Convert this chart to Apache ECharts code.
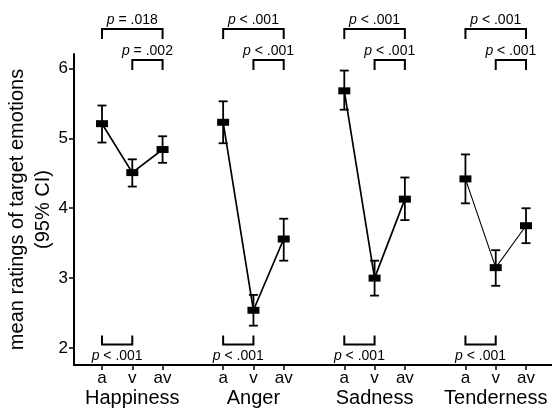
<!DOCTYPE html>
<html>
<head>
<meta charset="utf-8">
<script src="https://cdn.jsdelivr.net/npm/echarts@6/dist/echarts.min.js"></script>
<style>
html,body{margin:0;padding:0;background:#fff;}
#chart{width:552px;height:410px;}
</style>
</head>
<body>
<div id="chart"></div>
<script>
// ---- data ----
const groups = ['Happiness', 'Anger', 'Sadness', 'Tenderness'];
const conditions = ['a', 'v', 'av'];
const yTicks = [2, 3, 4, 5, 6];

const meanA  = [5.21, 5.23, 5.68, 4.42];
const meanV  = [4.51, 2.54, 3.00, 3.15];
const meanAV = [4.84, 3.56, 4.13, 3.75];

const ciLowA   = [4.94, 4.93, 5.41, 4.07];
const ciHighA  = [5.47, 5.53, 5.97, 4.77];
const ciLowV   = [4.31, 2.32, 2.75, 2.89];
const ciHighV  = [4.70, 2.76, 3.25, 3.40];
const ciLowAV  = [4.65, 3.25, 3.83, 3.50];
const ciHighAV = [5.03, 3.85, 4.44, 4.00];

const pAvsAV = ['p = .018', 'p < .001', 'p < .001', 'p < .001'];
const pVvsAV = ['p = .002', 'p < .001', 'p < .001', 'p < .001'];
const pAvsV  = ['p < .001', 'p < .001', 'p < .001', 'p < .001'];

// ---- build ----
const FONT = "'Liberation Sans', Arial, Helvetica, sans-serif";
const STEP = conditions.length + 1;
const pos = (g, c) => g * STEP + c;
const means = [meanA, meanV, meanAV];
const lows = [ciLowA, ciLowV, ciLowAV];
const highs = [ciHighA, ciHighV, ciHighAV];

const tickPositions = [];
groups.forEach((g, gi) => conditions.forEach((c, ci) => tickPositions.push(pos(gi, ci))));
const groupPositions = groups.map((g, gi) => pos(gi, 1));

const lineSeries = groups.map((g, gi) => ({
  type: 'line',
  name: g,
  data: conditions.map((c, ci) => [pos(gi, ci), means[ci][gi]]),
  showSymbol: false,
  symbol: 'none',
  lineStyle: { color: '#000', width: gi === 3 ? 1.1 : 1.7 },
  z: 2,
  silent: true
}));

const pointData = [];
const errData = [];
groups.forEach((g, gi) => conditions.forEach((c, ci) => {
  pointData.push([pos(gi, ci), means[ci][gi]]);
  errData.push([pos(gi, ci), lows[ci][gi], highs[ci][gi]]);
}));

const bracketData = [];
groups.forEach((g, gi) => {
  bracketData.push([pos(gi, 0), pos(gi, 2), 0, pAvsAV[gi]]);
  bracketData.push([pos(gi, 1), pos(gi, 2), 1, pVvsAV[gi]]);
  bracketData.push([pos(gi, 0), pos(gi, 1), 2, pAvsV[gi]]);
});
// bracket levels (value space): [bar level, leg end level, text side]
const LEVELS = [[6.564, 6.421, 'above'], [6.121, 5.978, 'above'], [2.05, 2.18, 'below']];

const X_MIN = -0.9245, X_MAX = 14.858;

const chart = echarts.init(document.getElementById('chart'), null, { renderer: 'canvas' });
chart.setOption({
  animation: false,
  backgroundColor: '#fff',
  grid: { left: 74, right: 0, top: 54, bottom: 45, containLabel: false, outerBoundsMode: 'none' },
  xAxis: [{
    type: 'value',
    position: 'bottom',
    min: X_MIN,
    max: X_MAX,
    splitLine: { show: false },
    axisLine: { show: true, onZero: false, lineStyle: { color: '#000', width: 2 } },
    axisTick: { show: true, customValues: tickPositions, length: 5, lineStyle: { color: '#000', width: 1.5 } },
    axisLabel: {
      customValues: tickPositions,
      showMinLabel: true,
      showMaxLabel: true,
      hideOverlap: false,
      margin: 5,
      fontSize: 17,
      color: '#000',
      fontFamily: FONT,
      formatter: function (v) {
        const gi = Math.floor(v / STEP);
        const ci = Math.round(v - gi * STEP);
        return conditions[ci];
      }
    }
  }, {
    type: 'value',
    position: 'bottom',
    offset: 0,
    min: X_MIN,
    max: X_MAX,
    splitLine: { show: false },
    axisLine: { show: false },
    axisTick: { show: false },
    axisLabel: {
      customValues: groupPositions,
      showMinLabel: true,
      showMaxLabel: true,
      hideOverlap: false,
      margin: 23,
      fontSize: 20,
      color: '#000',
      fontFamily: FONT,
      formatter: function (v) {
        return groups[Math.round((v - 1) / STEP)];
      }
    }
  }],
  yAxis: {
    type: 'value',
    min: 1.757,
    max: 6.207,
    splitLine: { show: false },
    axisLine: { show: true, onZero: false, lineStyle: { color: '#000', width: 2 } },
    axisTick: { show: true, customValues: yTicks, length: 5, lineStyle: { color: '#000', width: 1.5 } },
    axisLabel: { customValues: yTicks, margin: 6, fontSize: 17, color: '#000', fontFamily: FONT },
    name: 'mean ratings of target emotions\n(95% CI)',
    nameLocation: 'middle',
    nameRotate: 90,
    nameGap: 18,
    nameMoveOverlap: false,
    nameTextStyle: { fontSize: 20, lineHeight: 26, color: '#000', fontFamily: FONT }
  },
  series: [
    ...lineSeries,
    {
      type: 'custom',
      name: 'ci',
      data: errData,
      z: 3,
      silent: true,
      clip: false,
      renderItem: function (params, api) {
        const x = api.value(0);
        const lo = api.coord([x, api.value(1)]);
        const hi = api.coord([x, api.value(2)]);
        const cap = 4.5;
        const st = { stroke: '#000', lineWidth: 1.8, fill: null };
        return {
          type: 'group',
          children: [
            { type: 'line', shape: { x1: lo[0], y1: lo[1], x2: hi[0], y2: hi[1] }, style: st },
            { type: 'line', shape: { x1: lo[0] - cap, y1: lo[1], x2: lo[0] + cap, y2: lo[1] }, style: st },
            { type: 'line', shape: { x1: hi[0] - cap, y1: hi[1], x2: hi[0] + cap, y2: hi[1] }, style: st }
          ]
        };
      }
    },
    {
      type: 'scatter',
      name: 'means',
      data: pointData,
      symbol: 'rect',
      symbolSize: [12, 7],
      itemStyle: { color: '#000', opacity: 1 },
      z: 4,
      silent: true
    },
    {
      type: 'custom',
      name: 'brackets',
      data: bracketData,
      z: 5,
      silent: true,
      clip: false,
      renderItem: function (params, api) {
        const item = bracketData[params.dataIndex];
        const lv = LEVELS[item[2]];
        const p1 = api.coord([item[0], lv[0]]);
        const p2 = api.coord([item[1], lv[0]]);
        const e1 = api.coord([item[0], lv[1]]);
        const st = { stroke: '#000', lineWidth: 2, fill: null };
        const label = item[3];
        const rest = label.slice(1);
        const cx = (p1[0] + p2[0]) / 2;
        const above = lv[2] === 'above';
        return {
          type: 'group',
          children: [
            { type: 'polyline', shape: { points: [[p1[0], e1[1]], [p1[0], p1[1]], [p2[0], p2[1]], [p2[0], e1[1]]] }, style: st },
            {
              type: 'text',
              style: {
                text: '{i|p}{n|' + rest + '}',
                x: cx,
                y: above ? p1[1] - 2 : p1[1] + 5,
                align: 'center',
                verticalAlign: above ? 'bottom' : 'top',
                rich: {
                  i: { fontSize: 14, fontStyle: 'italic', fontFamily: FONT, fill: '#000' },
                  n: { fontSize: 14, fontFamily: FONT, fill: '#000' }
                }
              }
            }
          ]
        };
      }
    }
  ]
});
</script>
</body>
</html>
